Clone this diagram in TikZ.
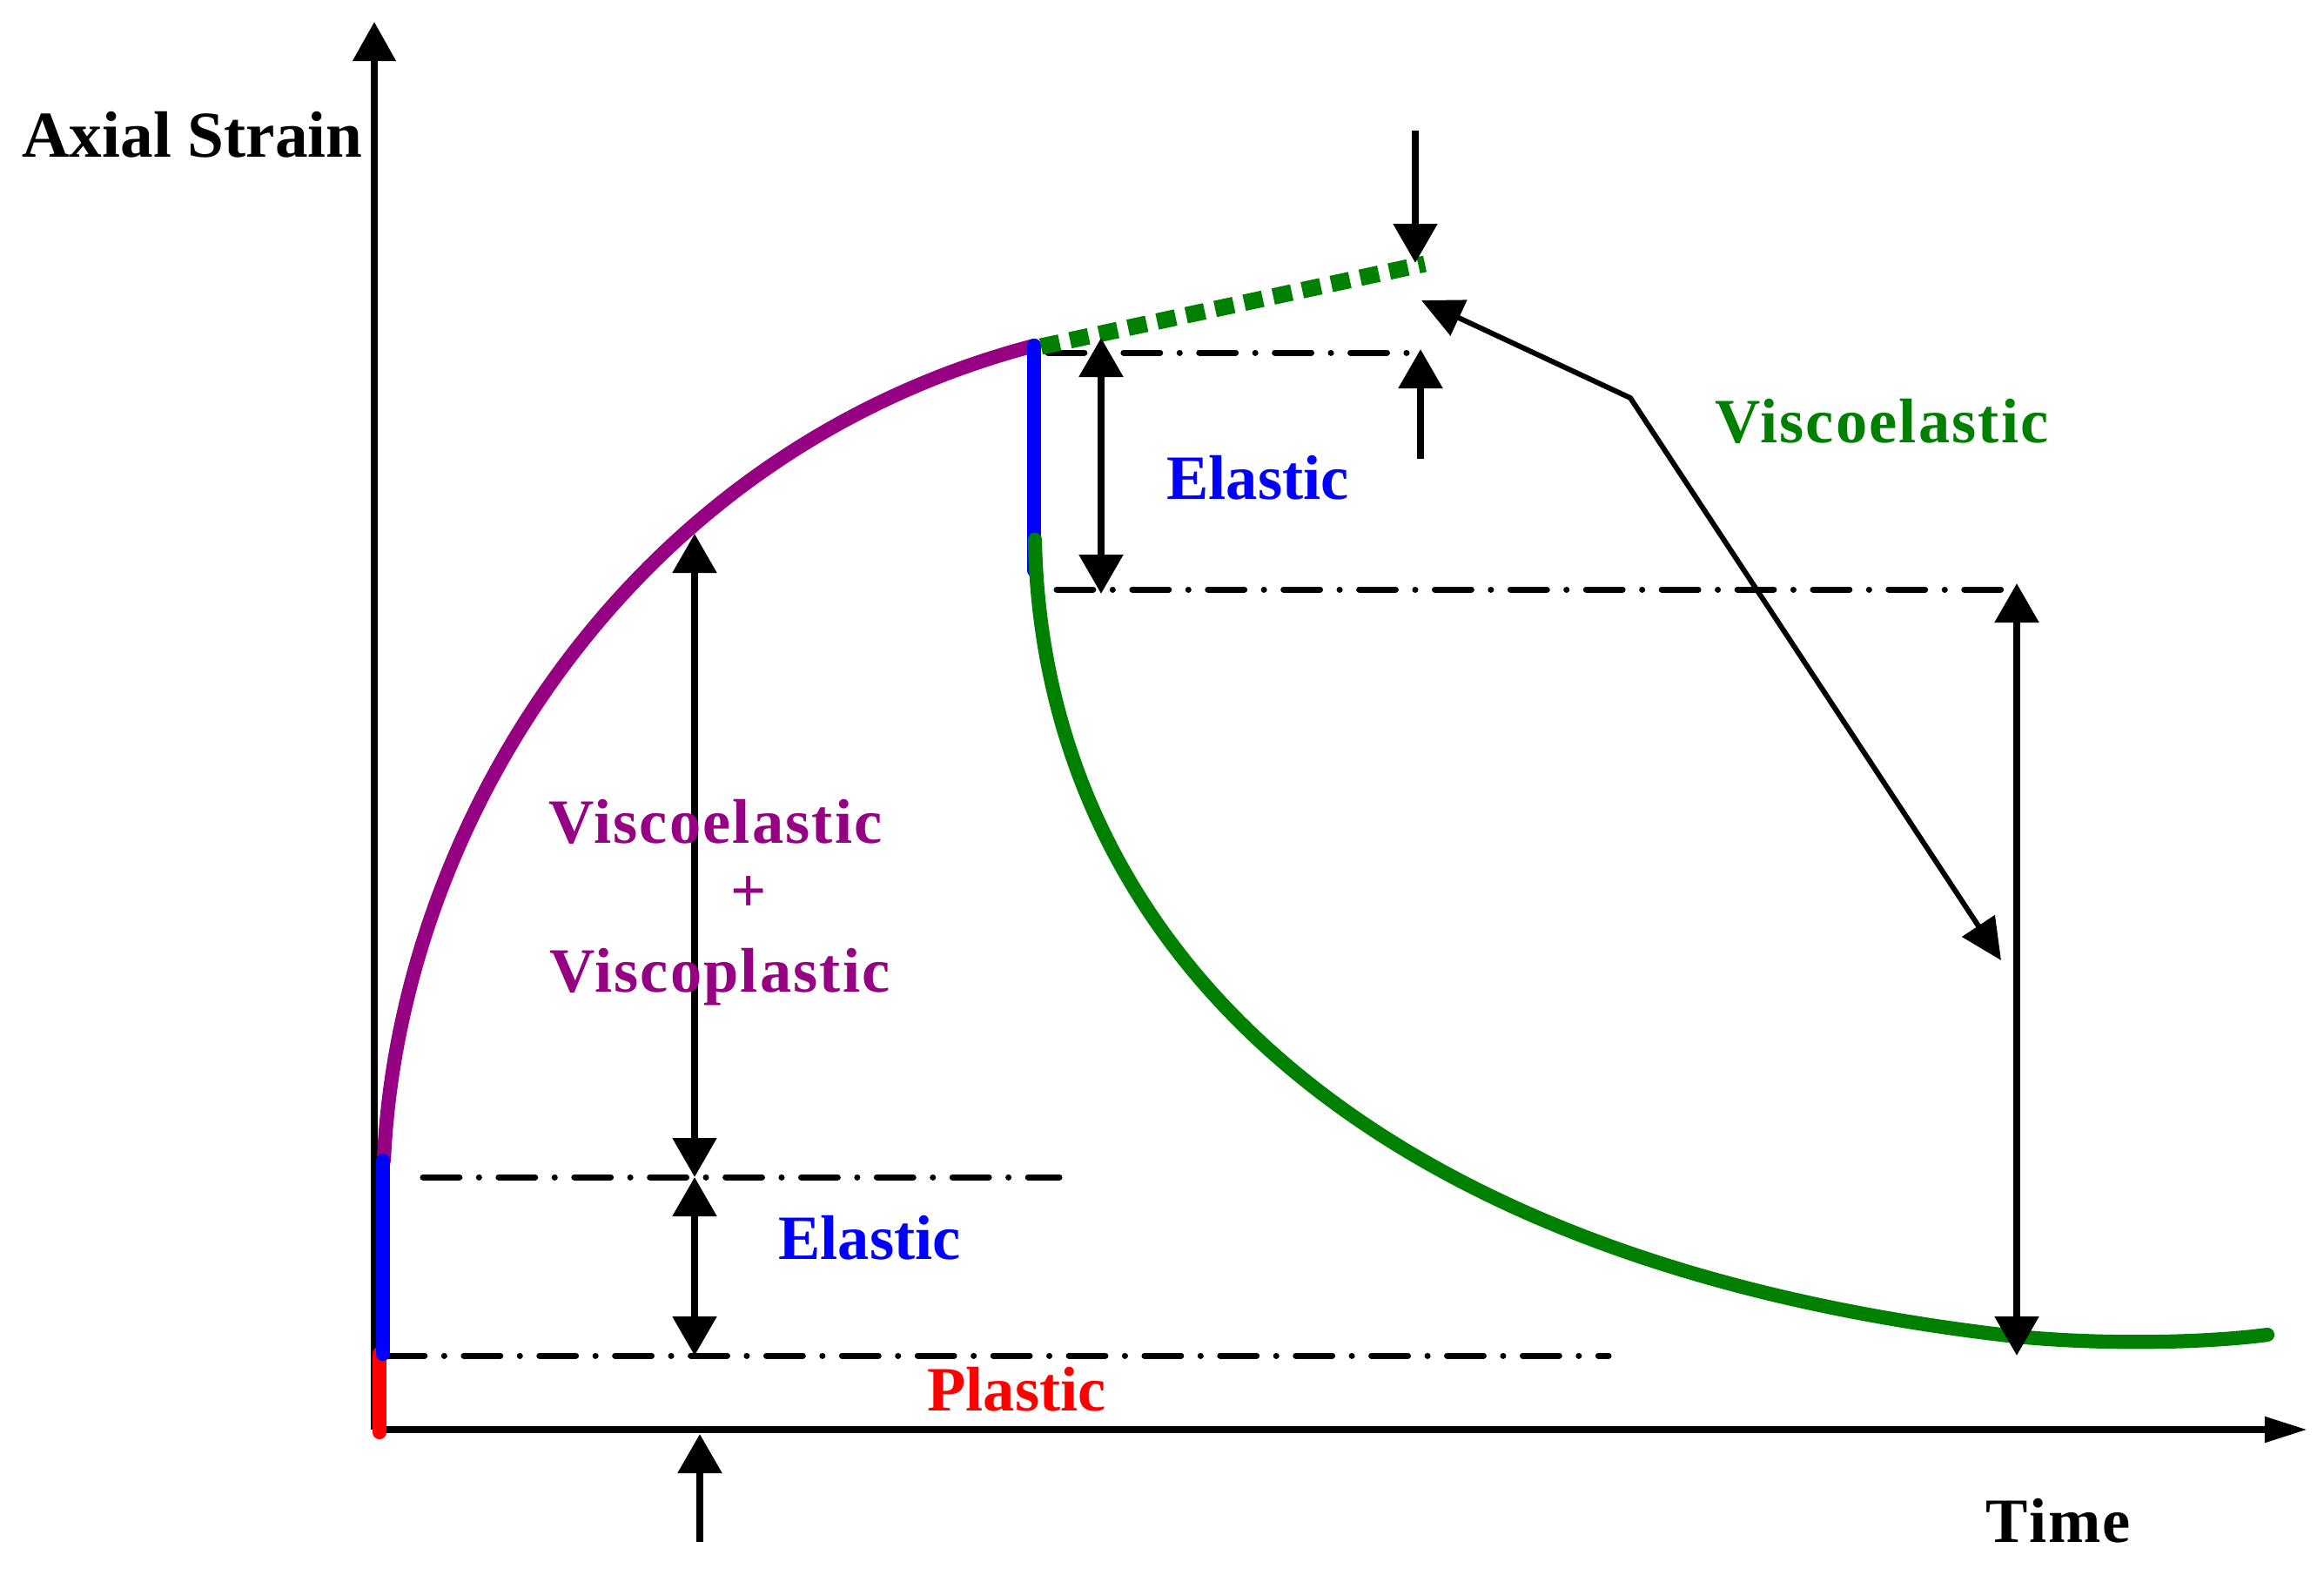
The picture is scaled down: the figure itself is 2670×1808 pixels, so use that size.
\documentclass[tikz,border=0pt]{standalone}
\usepackage{fontspec}
\setmainfont{Liberation Serif}
\usetikzlibrary{arrows.meta}
\definecolor{vpurple}{RGB}{150,0,130}
\definecolor{vgreen}{RGB}{0,128,0}
\definecolor{vblue}{RGB}{0,0,255}
\definecolor{vred}{RGB}{255,0,0}
\tikzset{
  lbl/.style={font=\bfseries\fontsize{20.6pt}{24pt}\selectfont, inner sep=0pt, anchor=base},
  wide/.style={font=\bfseries\fontsize{20.6pt}{24pt}\selectfont\addfontfeatures{LetterSpace=3}},
  axis/.style={line width=2.3pt, -{Triangle[length=12.8pt,width=13.6pt]}},
  xaxis/.style={line width=2.3pt, -{Triangle[length=14pt,width=8pt]}},
  dim/.style={line width=2.3pt, {Triangle[length=12.8pt,width=14pt]}-{Triangle[length=12.8pt,width=14pt]}},
  oneway/.style={line width=2.3pt, -{Triangle[length=12.8pt,width=14pt]}},
  ptr/.style={line width=1.7pt, {Triangle[length=13.5pt,width=12.5pt]}-{Triangle[length=13.5pt,width=12.5pt]}},
  dashdot/.style={line width=2pt, line cap=round, dash pattern=on 11.9pt off 6.4pt on 0.01pt off 6.4pt},
  curve/.style={line width=4.6pt, line cap=round},
  dotted green/.style={line width=5.4pt, vgreen, dash pattern=on 6.2pt off 3.5pt},
}
\begin{document}
\begin{tikzpicture}[x=0.01cm, y=-0.01cm]
\useasboundingbox (0,0) rectangle (2670,1808);
% key coordinates
\coordinate (O) at (430,1642);
\coordinate (ytip) at (430,25);
\coordinate (xtip) at (2651,1642);
\coordinate (r0) at (436,1645);
\coordinate (r1) at (436,1555);
\coordinate (b0) at (440,1555);
\coordinate (b1) at (440,1333);
\coordinate (pstart) at (441,1333);
\coordinate (peak) at (1188,397);
\coordinate (b2) at (1188,655);
\coordinate (g0) at (1189,620);
\coordinate (gmid) at (2299,1533);
\coordinate (gend2) at (2605,1533);
\coordinate (gstart) at (1196,398);
\coordinate (gend) at (1637,303);
% axes
\draw[axis] (O) -- (ytip);
\draw[xaxis] (O) -- (xtip);
% dash-dot reference lines
\coordinate (d1a) at (486,1352); \coordinate (d1b) at (1217,1352);
\coordinate (d2a) at (446,1557); \coordinate (d2b) at (1848,1557);
\coordinate (d3a) at (1204,405); \coordinate (d3b) at (1620,405);
\coordinate (d4a) at (1214,677); \coordinate (d4b) at (2300,677);
\draw[dashdot] (d1a) -- (d1b);
\draw[dashdot] (d2a) -- (d2b);
\draw[dashdot] (d3a) -- (d3b);
\draw[dashdot] (d4a) -- (d4b);
% curves
\draw[curve, vpurple] (pstart) .. controls (458,950) and (720,520) .. (peak);
\draw[curve, vred] (r0) -- (r1);
\draw[curve, vblue] (b0) -- (b1);
\draw[curve, vblue] (peak) -- (b2);
\draw[curve, vgreen] (g0) .. controls (1197,1050) and (1520,1440) .. (gmid)
  .. controls (2400,1545) and (2530,1543) .. (gend2);
\draw[dotted green] (gstart) -- (gend);
% dimension arrows
\coordinate (a1t) at (798,613); \coordinate (a1m) at (798,1352); \coordinate (a1b) at (798,1557);
\draw[dim] (a1t) -- (a1m);
\draw[dim] (a1m) -- (a1b);
\coordinate (a2t) at (1265,388); \coordinate (a2b) at (1265,682);
\draw[dim] (a2t) -- (a2b);
\coordinate (a3t) at (2317,670); \coordinate (a3b) at (2317,1557);
\draw[dim] (a3t) -- (a3b);
\coordinate (u0) at (804,1771); \coordinate (u1) at (804,1647);
\draw[oneway] (u0) -- (u1);
\coordinate (dn0) at (1626,150); \coordinate (dn1) at (1626,302);
\draw[oneway] (dn0) -- (dn1);
\coordinate (up0) at (1632,527); \coordinate (up1) at (1632,401);
\draw[oneway] (up0) -- (up1);
\coordinate (p0) at (1633,345); \coordinate (pk) at (1873,457); \coordinate (p1) at (2299,1103);
\draw[ptr] (p0) -- (pk) -- (p1);
% labels
\node[lbl, font=\bfseries\fontsize{21.4pt}{24pt}\selectfont] (tstrain) at (221,180) {Axial Strain};
\node[lbl, wide] (ttime) at (2365,1771) {Time};
\node[lbl, vblue] (tel1) at (1445,573) {Elastic};
\node[lbl, vblue] (tel2) at (999,1446) {Elastic};
\node[lbl, vred] (tpl) at (1168,1620) {Plastic};
\node[lbl, wide, vpurple] (tve1) at (822,968) {Viscoelastic};
\node[lbl, vpurple] (tplus) at (860,1047) {+};
\node[lbl, wide, vpurple] (tvp) at (827,1139) {Viscoplastic};
\node[lbl, wide, vgreen] (tve2) at (2162,508) {Viscoelastic};
\end{tikzpicture}
\end{document}
